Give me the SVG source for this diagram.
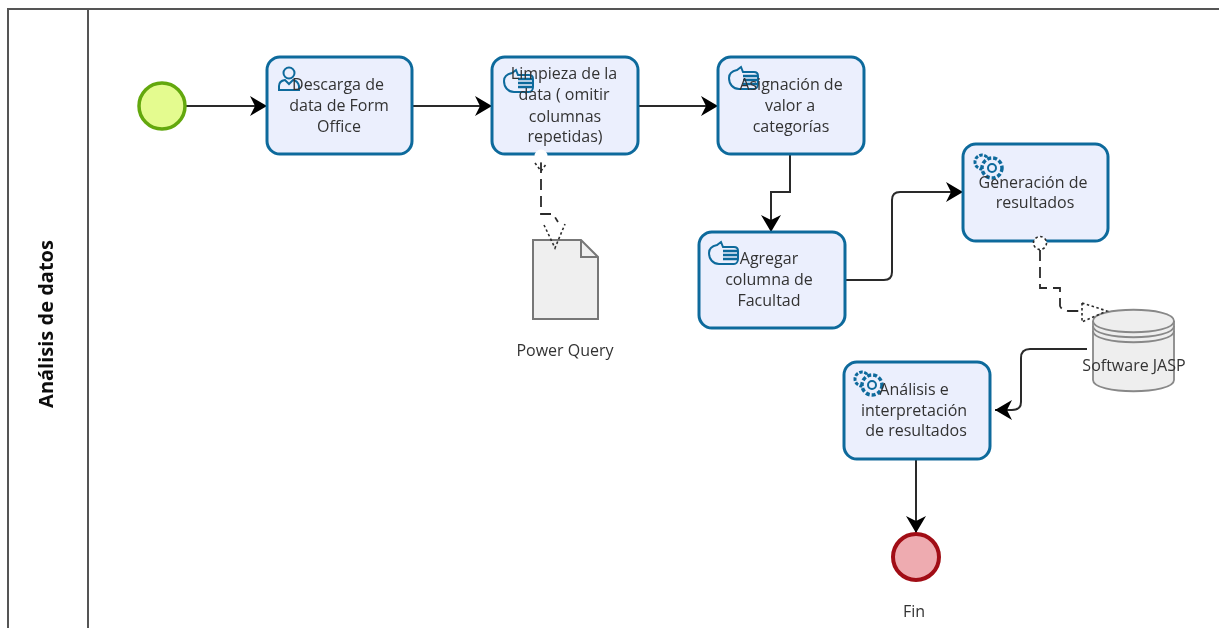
<svg xmlns="http://www.w3.org/2000/svg" width="1219" height="628" viewBox="0 0 1219 628">
<style>
text{font-family:"Open Sans","Noto Sans","Liberation Sans",sans-serif;font-size:16px;fill:#333;text-anchor:middle}
.task{fill:#ebeffd;stroke:#0f6a9c;stroke-width:3}
.flow{fill:none;stroke:#2b2b2b;stroke-width:2}
.assoc{fill:none;stroke:#2b2b2b;stroke-width:1.8;stroke-dasharray:11 6}
.dot{fill:#fff;stroke:#2b2b2b;stroke-width:1.6;stroke-dasharray:2.5 2.5}
.ic{fill:none;stroke:#0f6a9c;stroke-width:2}
.lane{fill:none;stroke:#555;stroke-width:2}
</style>
<defs>
<filter id="soft" x="0" y="0" width="1219" height="628" filterUnits="userSpaceOnUse"><feGaussianBlur stdDeviation="0.5"/></filter>
<marker id="arr" markerUnits="userSpaceOnUse" markerWidth="20" markerHeight="22" refX="18" refY="11" orient="auto"><path d="M1 1L18 11L1 21L6 11Z" fill="#000"/></marker>
<g id="hand" class="ic"><path d="M1 11C1 6 4 4 9 3L13 0L15 5H26C29 5 30 7 30 9V17C30 20 28 22 26 22H11C5 22 1 17 1 11Z"/><path d="M15 9H30M15 13H30M15 17H30" stroke-width="2.500"/></g>
<g id="gears" class="ic"><circle cx="9" cy="10" r="7" stroke-dasharray="3.500 1.500" stroke-width="3"/><circle cx="19" cy="16" r="10" fill="#ebeffd" stroke-dasharray="4 2" stroke-width="3.500"/><circle cx="19" cy="16" r="4"/></g>
</defs>
<rect width="1219" height="628" fill="#fff"/>
<g filter="url(#soft)">
<g id="lane"><path class="lane" d="M8 628V9H1219M88 9V628"/><text transform="translate(53,324) rotate(-90)" style="font-size:20px;font-weight:700;fill:#111">Análisis de datos</text></g>
<g id="connectors">
<path class="flow" marker-end="url(#arr)" d="M186 106H267"/>
<path class="flow" marker-end="url(#arr)" d="M412 106H492"/>
<path class="flow" marker-end="url(#arr)" d="M638 106H718"/>
<path class="flow" marker-end="url(#arr)" d="M790 154V192H771V232"/>
<path class="flow" marker-end="url(#arr)" d="M845 280H884Q892 280 892 272V200Q892 192 900 192H963"/>
<path class="flow" marker-end="url(#arr)" d="M1087 349H1030Q1021 349 1021 358V402Q1021 410 1012 410H995"/>
<path class="flow" marker-end="url(#arr)" d="M916 459V533"/>
<path class="assoc" d="M541 162V214H553L558 222"/>
<path class="assoc" d="M1040 250V288H1060V306Q1062 311 1070 311H1082"/>
</g>
<g id="start"><circle cx="162" cy="106" r="23" fill="#e4fb8f" stroke="#63a80f" stroke-width="3.500"/></g>
<g id="t1"><rect class="task" x="267" y="57" width="145" height="97" rx="13"/>
<g class="ic"><circle cx="289" cy="73" r="5.500"/><path d="M279 90V86Q279 81 285 80L289 84L293 80Q298 81 299 86V90Z"/></g>
<text x="338" y="90">Descarga de</text><text x="339" y="111">data de Form</text><text x="339" y="132">Office</text></g>
<g id="t2"><rect class="task" x="492" y="57" width="146" height="97" rx="13"/>
<use href="#hand" x="503" y="70"/>
<text x="564" y="79">Limpieza de la</text><text x="564" y="100">data ( omitir</text><text x="565" y="122">columnas</text><text x="565" y="142">repetidas)</text></g>
<g id="t3"><rect class="task" x="718" y="57" width="146" height="97" rx="13"/>
<use href="#hand" x="728" y="67"/>
<text x="791" y="90">Asignación de</text><text x="790" y="111">valor a</text><text x="791" y="132">categorías</text></g>
<g id="t4"><rect class="task" x="699" y="232" width="146" height="96" rx="13"/>
<use href="#hand" x="708" y="242"/>
<text x="769" y="264">Agregar</text><text x="769" y="285">columna de</text><text x="769" y="306">Facultad</text></g>
<g id="t5"><rect class="task" x="963" y="144" width="145" height="97" rx="13"/>
<use href="#gears" x="973" y="152"/>
<text x="1033" y="188">Generación de</text><text x="1035" y="208">resultados</text></g>
<g id="t6"><rect class="task" x="844" y="362" width="146" height="97" rx="13"/>
<use href="#gears" x="853" y="369"/>
<text x="914" y="395">Análisis e</text><text x="914" y="416">interpretación</text><text x="916" y="436">de resultados</text></g>
<g id="doc"><path d="M533 240H581L598 257V319H533Z" fill="#efefef" stroke="#777" stroke-width="2"/><path d="M581 240V257H598" fill="none" stroke="#777" stroke-width="2"/>
<text x="565" y="356">Power Query</text></g>
<g id="db"><path d="M1093 321C1093 306 1174 306 1174 321V380C1174 395 1093 395 1093 380Z" fill="#eee" stroke="#888" stroke-width="1.800"/><path d="M1093 321C1093 336 1174 336 1174 321M1093 326C1093 341 1174 341 1174 326M1093 331C1093 346 1174 346 1174 331" fill="none" stroke="#888" stroke-width="1.800"/>
<text x="1134" y="371">Software JASP</text></g>
<g id="end"><circle cx="916" cy="557" r="23" fill="#eeabb0" stroke="#a10d14" stroke-width="4"/><text x="914" y="617">Fin</text></g>
<g id="assoc-ends">
<circle class="dot" cx="541" cy="156" r="6.500" style="stroke:none"/>
<path d="M535 163L541 171L547 163" fill="none" stroke="#2b2b2b" stroke-width="1.600" stroke-dasharray="2.500 2.500"/>
<path class="dot" style="fill:none" d="M544 225L555 248L565 224"/>
<circle class="dot" cx="1040" cy="243" r="6.500"/>
<path class="dot" style="fill:none" d="M1082 303V322L1107 311Z"/>
</g>
</g>
</svg>
